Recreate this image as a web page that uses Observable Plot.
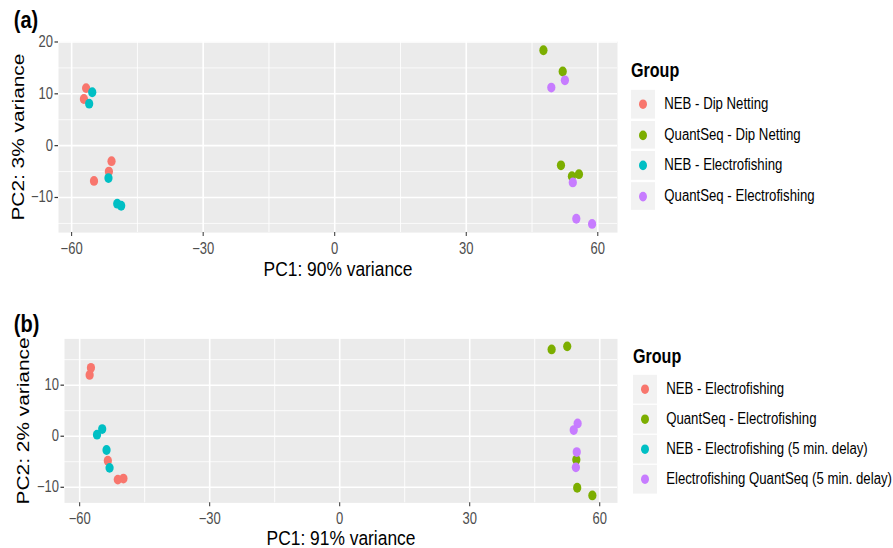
<!DOCTYPE html>
<html><head><meta charset="utf-8">
<script src="https://cdn.jsdelivr.net/npm/d3@7"></script>
<script src="https://cdn.jsdelivr.net/npm/@observablehq/plot@0.6"></script>
<style>
body{margin:0;background:#fff;font-family:"Liberation Sans",Arial,Helvetica,sans-serif}
#root{position:relative;width:893px;height:548px;overflow:hidden;background:#fff}
#root svg{display:block}
.legend{position:absolute;transform:scaleY(1.2);transform-origin:0 0;font-family:"Liberation Sans",Arial,sans-serif;color:#000}
.legend .ttl{position:absolute;left:0;white-space:nowrap;font-weight:bold;font-size:16.1px;height:25px;line-height:25px}
.legend .key{position:absolute;left:0;width:24px;background:#F2F2F2}
.legend .key span{position:absolute;left:8px;width:8px;height:8px;border-radius:50%}
.legend .lab{position:absolute;white-space:nowrap;font-size:13.2px}
</style></head>
<body><div id="root"></div>
<script>
// ---- shared ----
const colors = ["#F8766D", "#7CAE00", "#00BFC4", "#C77CFF"];
const xTicks = [-60, -30, 0, 30, 60];
const xMinorTicks = [-45, -15, 15, 45];
const yTicks = [-10, 0, 10, 20];
const yMinorTicks = [-15, -5, 5, 15];

// ---- panel (a) ----
const groupsA = ["NEB - Dip Netting", "QuantSeq - Dip Netting", "NEB - Electrofishing", "QuantSeq - Electrofishing"];
const groupIndexA = [0,0,0,0,0, 1,1,1,1,1, 2,2,2,2,2, 3,3,3,3,3];
const pc1A = [-56.7,-57.2,-50.9,-51.5,-54.9,  47.6,52.0,51.6,54.1,55.7,  -55.3,-56.0,-51.6,-49.6,-48.7,  52.5,49.4,54.3,55.1,58.7];
const pc2A = [11.1,9.0,-3.0,-5.0,-6.8,  18.4,14.3,-3.8,-5.9,-5.5,  10.3,8.1,-6.25,-11.2,-11.6,  12.6,11.2,-7.1,-14.1,-15.1];
const xTitleA = "PC1: 90% variance";
const yTitleA = "PC2: 3% variance";
const tagA = "(a)";

// ---- panel (b) ----
const groupsB = ["NEB - Electrofishing", "QuantSeq - Electrofishing", "NEB - Electrofishing (5 min. delay)", "Electrofishing QuantSeq (5 min. delay)"];
const groupIndexB = [0,0,0,0,0, 1,1,1,1,1, 2,2,2,2, 3,3,3,3];
const pc1B = [-57.4,-57.7,-53.5,-51.2,-49.9,  48.9,52.5,54.6,54.8,58.3,  -54.8,-56.0,-53.8,-53.1,  54.9,54.0,54.7,54.5];
const pc2B = [13.4,12.0,-4.8,-8.5,-8.3,  17.0,17.6,-4.6,-10.1,-11.6,  1.4,0.3,-2.7,-6.2,  2.5,1.2,-3.1,-6.1];
const xTitleB = "PC1: 91% variance";
const yTitleB = "PC2: 2% variance";
const tagB = "(b)";

const legendTitle = "Group";
const S = 1.2; // vertical stretch of the whole figure
const W = 893;
const fmt = d => d < 0 ? "\u2212" + Math.abs(d) : String(d);

function expand([a, b]) { const p = (b - a) * 0.05; return [a - p, b + p]; }
function inside(ticks, [a, b]) { return ticks.filter(t => t >= a && t <= b); }

function panel(c) {
  const data = c.pc1.map((x, i) => ({x, y: c.pc2[i], g: c.groups[c.gi[i]]}));
  const xd = expand(d3.extent(c.pc1)), yd = expand(d3.extent(c.pc2));
  const font = {fontFamily: "Liberation Sans, Arial, sans-serif"};
  const svg = Plot.plot({
    width: W, height: c.H / S,
    marginLeft: c.fl, marginRight: W - c.fr,
    marginTop: c.ft / S, marginBottom: (c.H - c.fb) / S,
    x: {domain: xd}, y: {domain: yd},
    color: {domain: c.groups, range: colors},
    style: {...font, background: "white", overflow: "visible"},
    marks: [
      Plot.frame({fill: "#EBEBEB", stroke: "none"}),
      Plot.gridX(inside(xMinorTicks, xd), {stroke: "white", strokeOpacity: 1, strokeWidth: 0.8}),
      Plot.gridY(inside(yMinorTicks, yd), {stroke: "white", strokeOpacity: 1, strokeWidth: 0.7}),
      Plot.gridX(inside(xTicks, xd), {stroke: "white", strokeOpacity: 1, strokeWidth: 1.6}),
      Plot.gridY(inside(yTicks, yd), {stroke: "white", strokeOpacity: 1, strokeWidth: 1.3}),
      Plot.dot(data, {x: "x", y: "y", fill: "g", r: 4.1}),
      Plot.axisX(inside(xTicks, xd), {tickSize: 3.3, tickPadding: 5, fontSize: 13, stroke: "#333333", fill: "#4D4D4D", label: null, tickFormat: fmt}),
      Plot.axisY(inside(yTicks, yd), {tickSize: 3.5, tickPadding: 2, fontSize: 13, stroke: "#333333", fill: "#4D4D4D", label: null, tickFormat: fmt}),
      Plot.text([c.xTitle], {text: d => d, frameAnchor: "bottom", textAnchor: "middle", lineAnchor: "middle", dy: c.xTitleDy, fontSize: 17.4, fill: "black"}),
      Plot.text([c.yTitle], {text: d => d, frameAnchor: "left", textAnchor: "middle", lineAnchor: "middle", rotate: -90, dx: c.yTitleDx, fontSize: 17.4, fill: "black"}),
      Plot.text([c.tag], {text: d => d, frameAnchor: "top-left", textAnchor: "start", lineAnchor: "middle", dx: c.tagDx, dy: c.tagDy, fontSize: 20, fontWeight: "bold", fill: "black"})
    ]
  });
  svg.setAttribute("preserveAspectRatio", "none");
  svg.setAttribute("height", c.H);
  svg.style.width = W + "px";
  svg.style.height = c.H + "px";
  svg.style.maxWidth = "none";
  return svg;
}

function legend(c) {
  const div = document.createElement("div");
  div.className = "legend";
  div.style.left = c.left + "px";
  div.style.top = c.top + "px";
  const t = document.createElement("div");
  t.className = "ttl"; t.textContent = legendTitle; t.style.top = c.titleTop + "px";
  div.appendChild(t);
  c.groups.forEach((g, i) => {
    const top = c.keyTop + i * c.step;
    const k = document.createElement("div");
    k.className = "key"; k.style.top = top + "px"; k.style.height = c.keyH + "px";
    const dot = document.createElement("span");
    dot.style.background = colors[i]; dot.style.top = (c.keyH / 2 - 4) + "px";
    k.appendChild(dot); div.appendChild(k);
    const l = document.createElement("div");
    l.className = "lab"; l.textContent = g;
    l.style.left = c.labX + "px"; l.style.top = top + "px";
    l.style.height = c.keyH + "px"; l.style.lineHeight = c.keyH + "px";
    div.appendChild(l);
  });
  return div;
}

const root = document.getElementById("root");
root.appendChild(panel({pc1: pc1A, pc2: pc2A, gi: groupIndexA, groups: groupsA, xTitle: xTitleA, yTitle: yTitleA, tag: tagA,
  H: 280, fl: 58, fr: 617, ft: 41, fb: 232, xTitleDy: 30.5, yTitleDx: -40.5, tagDx: -44.7, tagDy: -17.5}));
root.appendChild(panel({pc1: pc1B, pc2: pc2B, gi: groupIndexB, groups: groupsB, xTitle: xTitleB, yTitle: yTitleB, tag: tagB,
  H: 268, fl: 64, fr: 617, ft: 58.3, fb: 222.3, xTitleDy: 29.3, yTitleDx: -41.5, tagDx: -50.7, tagDy: -11.9}));
root.appendChild(legend({groups: groupsA, left: 631, top: 55, titleTop: 0, keyTop: 29.2, step: 25.5, keyH: 23.7, labX: 33.3}));
root.appendChild(legend({groups: groupsB, left: 633, top: 340, titleTop: 1.25, keyTop: 29.2, step: 25, keyH: 23.7, labX: 33.2}));
</script></body></html>
